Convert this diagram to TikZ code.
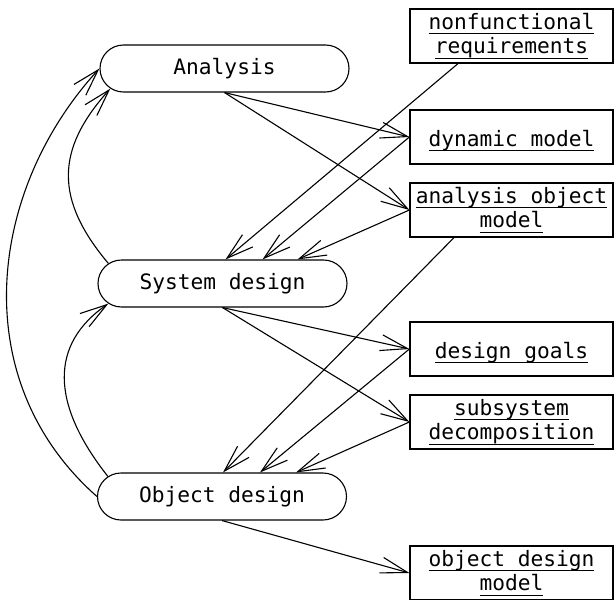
\documentclass[tikz,border=0pt]{standalone}
\usepackage{fontspec}
\newfontfamily\tfont{DejaVu Sans Mono}
\usetikzlibrary{arrows.meta,shapes.misc}
\newcommand{\ulx}[1]{\setbox0\hbox{#1}\rlap{\vrule height -4pt depth 5pt width \wd0}\box0}
\tikzset{
  proc/.style={rounded rectangle, draw, line width=1.1pt, minimum width=249pt,
    minimum height=47pt, inner sep=0pt, font=\fontsize{21.2}{24.5}\tfont},
  prod/.style={rectangle, draw, line width=1.2pt, minimum width=203pt,
    minimum height=54pt, inner sep=0pt, align=center, font=\fontsize{21.2}{24.5}\tfont},
  oneline/.style={text height=19pt, text depth=1pt},
  arr/.style={-{Straight Barb[length=27pt,width=16pt]}, line width=1.1pt}
}
\begin{document}
\begin{tikzpicture}[x=1pt,y=-1pt]
\useasboundingbox (0,0) rectangle (614,600);
\node[proc] (an)  at (224.5,68.5) {Analysis};
\node[proc] (sys) at (222.5,283.5) {System design};
\node[proc] (od)  at (222,496.5) {Object design};
\node[prod] (nfr) at (511.5,36) {\ulx{nonfunctional}\\\ulx{requirements}};
\node[prod,oneline] (dm) at (511.5,137) {\ulx{dynamic model}};
\node[prod] (aom) at (511.5,210) {\ulx{analysis object}\\\ulx{model}};
\node[prod,oneline] (dg) at (511.5,349) {\ulx{design goals}};
\node[prod] (ssd) at (511.5,422) {\ulx{subsystem}\\\ulx{decomposition}};
\node[prod] (odm) at (511.5,573) {\ulx{object design}\\\ulx{model}};
\draw[arr] (an.south) -- (dm.west);
\draw[arr] (an.south) -- (aom.west);
\draw[arr] ([xshift=-53.5pt]nfr.south) -- ([xshift=3pt]sys.north);
\draw[arr] (dm.west) -- ([xshift=40pt]sys.north);
\draw[arr] (aom.west) -- ([xshift=75pt]sys.north);
\draw[arr] ([xshift=-57.5pt]aom.south) -- ([xshift=1pt]od.north);
\draw[arr] (sys.south) -- (dg.west);
\draw[arr] (sys.south) -- (ssd.west);
\draw[arr] (dg.west) -- ([xshift=38pt]od.north);
\draw[arr] (ssd.west) -- ([xshift=74pt]od.north);
\draw[arr] (od.south) -- (odm.west);
\draw[arr] (od.west) .. controls (-35,380) and (-12,190) .. (an.west);
\draw[arr] (sys.170) .. controls (55,200) and (55,150) .. (an.190);
\draw[arr] (od.170) .. controls (50,403) and (50,344) .. (sys.190);
\end{tikzpicture}
\end{document}
